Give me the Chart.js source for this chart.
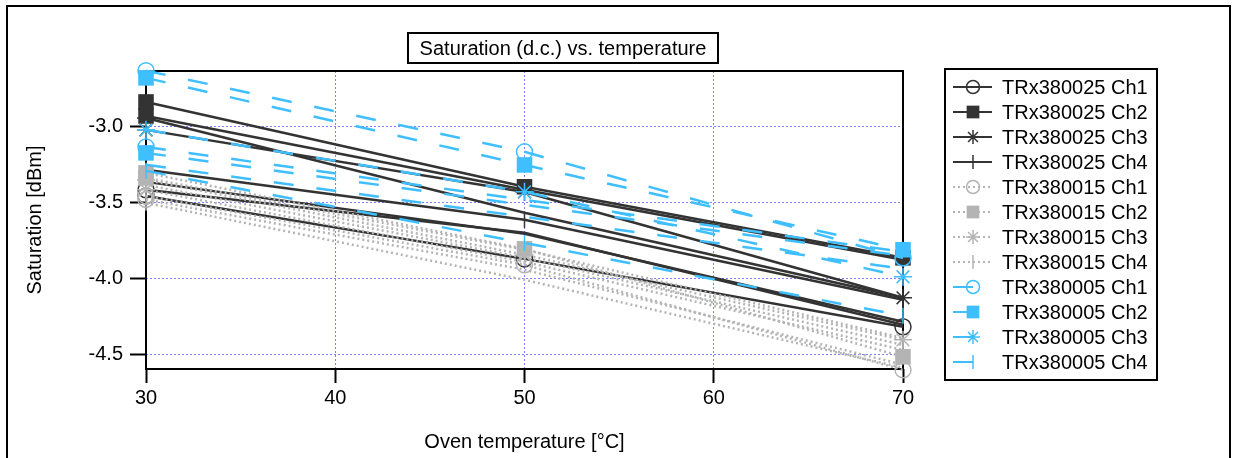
<!DOCTYPE html>
<html lang="en">
<head>
<meta charset="UTF-8" />
<title>Saturation (d.c.) vs. temperature</title>
<script src="https://cdn.jsdelivr.net/npm/chart.js"></script>
<style>
  html, body { margin: 0; padding: 0; background: #fff; overflow: hidden; }
  #wrap { position: absolute; left: 0; top: 0; width: 1237px; height: 458px; }
</style>
</head>
<body>
<div id="wrap"><canvas id="chart" width="1237" height="458"></canvas></div>
<script>
// oven temperatures and axis ticks
const temps = [30, 50, 70];
const xTicks = [30, 40, 50, 60, 70];
const yTicks = [-4.5, -4.0, -3.5, -3.0];

// TRx380025 (dark, solid)
const trx25_ch1 = [-3.457, -3.87, -4.315];
const trx25_ch2 = [-2.841, -3.397, -3.863];
const trx25_ch3 = [-3.024, -3.431, -4.125];
const trx25_ch4 = [-3.286, -3.614, -4.138];
// second pass of the same channels
const trx25_ch1_b = [-3.417, -3.699, -4.302];
const trx25_ch2_b = [-2.933, -3.417, -3.876];
const trx25_ch3_b = [-2.946, -3.568, -4.125];
const trx25_ch4_b = [-3.365, -3.705, -4.282];

// TRx380015 (grey, dotted)
const trx15_ch1 = [-3.457, -3.909, -4.597];
const trx15_ch2 = [-3.306, -3.804, -4.512];
const trx15_ch3 = [-3.352, -3.843, -4.401];
const trx15_ch4 = [-3.385, -3.863, -4.434];
const trx15_ch1_b = [-3.48, -3.941, -4.564];
const trx15_ch2_b = [-3.339, -3.81, -4.388];
const trx15_ch3_b = [-3.417, -3.889, -4.467];
const trx15_ch4_b = [-3.502, -4.007, -4.584];

// TRx380005 (light blue, dashed)
const trx05_ch1 = [-2.636, -3.168, -3.864];
const trx05_ch2 = [-2.683, -3.254, -3.81];
const trx05_ch3 = [-3.024, -3.43, -3.987];
const trx05_ch4 = [-3.293, -3.765, -4.243];
const trx05_ch1_b = [-3.136, -3.483, -3.824];
const trx05_ch2_b = [-3.175, -3.516, -3.85];
const trx05_ch3_b = [-3.253, -3.594, -3.935];

const FONT = '"Liberation Sans", Arial, sans-serif';

// marker per channel
const markers = [
  { pointStyle: "circle", radius: 8, legendRadius: 6.5, fill: false, rotation: 0 },
  { pointStyle: "rect", radius: 11, legendRadius: 9, fill: true, rotation: 0 },
  { pointStyle: "star", radius: 9, legendRadius: 7, fill: false, rotation: 0 },
  { pointStyle: "line", radius: 8, legendRadius: 7, fill: false, rotation: 90 },
];

const groups = [
  { name: "TRx380025", color: "#333333", dash: [], order: 3,
    main: [trx25_ch1, trx25_ch2, trx25_ch3, trx25_ch4],
    extra: [[trx25_ch1_b, 0], [trx25_ch2_b, 1], [trx25_ch3_b, 2], [trx25_ch4_b, 3]] },
  { name: "TRx380015", color: "#b4b4b4", dash: [2, 3], order: 2,
    main: [trx15_ch1, trx15_ch2, trx15_ch3, trx15_ch4],
    extra: [[trx15_ch1_b, 0], [trx15_ch2_b, 1], [trx15_ch3_b, 2], [trx15_ch4_b, 3]] },
  { name: "TRx380005", color: "#3fbfff", dash: [20, 23], order: 1,
    main: [trx05_ch1, trx05_ch2, trx05_ch3, trx05_ch4],
    extra: [[trx05_ch1_b, 0, true], [trx05_ch2_b, 1, true], [trx05_ch3_b, 2, false]] },
];

function makeDataset(label, values, g, m, radius) {
  return {
    label: label,
    data: temps.map((t, i) => ({ x: t, y: values[i] })),
    borderColor: g.color,
    borderWidth: 2.5,
    borderDash: g.dash,
    pointStyle: m.pointStyle,
    pointRadius: radius,
    pointHoverRadius: radius,
    pointRotation: m.rotation,
    pointBackgroundColor: m.fill ? g.color : "rgba(0,0,0,0)",
    pointBorderColor: g.color,
    pointBorderWidth: m.fill ? 0 : 1.5,
    fill: false,
    tension: 0,
    clip: false,
    order: g.order,
  };
}

const datasets = [];
const legendRows = [];
groups.forEach((g) => {
  g.main.forEach((vals, c) => {
    legendRows.push(datasets.length);
    datasets.push(makeDataset(g.name + " Ch" + (c + 1), vals, g, markers[c], markers[c].radius));
  });
});
groups.forEach((g) => {
  g.extra.forEach(([vals, c, mark]) => {
    const r = markers[c].radius;
    const radius = mark === false ? 0 : mark ? [r, 0, 0] : [r, 0, 0];
    datasets.push(makeDataset(g.name + " Ch" + (c + 1), vals, g, markers[c], radius));
  });
});

// frame, title box, outer border and boxed legend
const decorations = {
  id: "decorations",
  beforeDatasetsDraw(chart) {
    const ctx = chart.ctx;
    const a = chart.chartArea;
    ctx.save();
    ctx.strokeStyle = "#000";
    ctx.lineWidth = 2;
    ctx.strokeRect(7, 6, 1223, 520);
    ctx.strokeRect(a.left, a.top, a.right - a.left, a.bottom - a.top);
    ctx.restore();
  },
  afterDraw(chart) {
    const ctx = chart.ctx;
    ctx.save();
    // title
    ctx.fillStyle = "#fff";
    ctx.fillRect(408, 33, 310, 30);
    ctx.strokeStyle = "#000";
    ctx.lineWidth = 2;
    ctx.strokeRect(408, 33, 310, 30);
    ctx.fillStyle = "#000";
    ctx.font = "20px " + FONT;
    ctx.textAlign = "center";
    ctx.textBaseline = "middle";
    ctx.fillText("Saturation (d.c.) vs. temperature", 563, 49);

    // legend
    ctx.strokeRect(945, 69, 212, 311);
    ctx.textAlign = "left";
    legendRows.forEach((idx, row) => {
      const ds = chart.data.datasets[idx];
      const m = markers[row % 4];
      const y = 87 + row * 25;
      ctx.save();
      ctx.strokeStyle = ds.borderColor;
      ctx.lineWidth = 2;
      ctx.setLineDash(ds.borderDash);
      ctx.beginPath();
      ctx.moveTo(953, y);
      ctx.lineTo(992, y);
      ctx.stroke();
      ctx.restore();

      ctx.save();
      ctx.fillStyle = ds.pointBackgroundColor;
      ctx.strokeStyle = ds.pointBorderColor;
      ctx.lineWidth = m.fill ? 1 : 1.5;
      Chart.helpers.drawPoint(ctx, {
        pointStyle: m.pointStyle,
        rotation: m.rotation,
        radius: m.legendRadius,
        borderWidth: m.fill ? 0 : 1.5,
      }, 973, y);
      ctx.restore();

      ctx.fillStyle = "#000";
      ctx.fillText(ds.label, 1002, y + 1);
    });
    ctx.restore();
  },
};

new Chart(document.getElementById("chart").getContext("2d"), {
  type: "line",
  data: { datasets: datasets },
  options: {
    responsive: false,
    animation: false,
    devicePixelRatio: 1,
    layout: { padding: { left: 0, top: 71, right: 334, bottom: 0 } },
    plugins: {
      legend: { display: false },
      title: { display: false },
      tooltip: { enabled: false },
    },
    scales: {
      x: {
        type: "linear",
        min: 30,
        max: 70,
        afterBuildTicks: (s) => { s.ticks = xTicks.map((v) => ({ value: v })); },
        afterFit: (s) => { s.height = 89; },
        ticks: { color: "#000", font: { family: FONT, size: 20 }, padding: 3, maxRotation: 0 },
        grid: {
          color: "#7f7fff", lineWidth: 1, tickColor: "#000", tickWidth: 2,
          tickLength: 14, tickBorderDash: [],
        },
        border: { display: false, dash: [2, 2] },
        title: {
          display: true, text: "Oven temperature [°C]", color: "#000",
          font: { family: FONT, size: 20 }, padding: { top: 0, bottom: 4 },
        },
      },
      y: {
        type: "linear",
        min: -4.592,
        max: -2.638,
        afterBuildTicks: (s) => { s.ticks = yTicks.map((v) => ({ value: v })); },
        afterFit: (s) => { s.width = 146; },
        ticks: {
          color: "#000", font: { family: FONT, size: 20 }, padding: 7,
          callback: (v) => v.toFixed(1),
        },
        grid: {
          color: "#7f7fff", lineWidth: 1, tickColor: "#000", tickWidth: 2,
          tickLength: 16, tickBorderDash: [],
        },
        border: { display: false, dash: [2, 2] },
        title: {
          display: true, text: "Saturation [dBm]", color: "#000",
          font: { family: FONT, size: 20 }, padding: { top: 23, bottom: 0 },
        },
      },
    },
  },
  plugins: [decorations],
});
</script>
</body>
</html>
